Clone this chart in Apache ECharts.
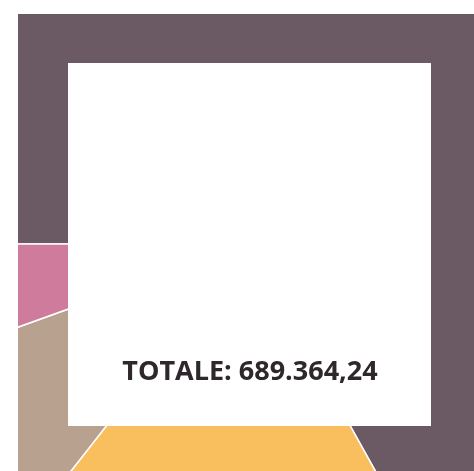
<!DOCTYPE html>
<html>
<head>
<meta charset="utf-8">
<script src="https://cdn.jsdelivr.net/npm/echarts@6/dist/echarts.min.js"></script>
<style>
  html, body { margin: 0; padding: 0; background: #fff; overflow: hidden; width: 474px; height: 471px; }
  #canvas { position: absolute; left: 18px; top: 14px; width: 462px; height: 460px; }
</style>
</head>
<body>
<div id="canvas"></div>
<script>
// dati
var categorie = ['Voce A', 'Voce B', 'Voce C', 'Voce D'];
var valori = [461301.00, 128681.00, 61468.00, 37914.24];
var colori = ['#6b5a63', '#f9be5e', '#b9a190', '#cf7b9c'];

var totale = valori.reduce(function (a, b) { return a + b; }, 0);
var fmt = totale.toLocaleString('it-IT', { minimumFractionDigits: 2, maximumFractionDigits: 2 });

var dom = document.getElementById('canvas');
var myChart = echarts.init(dom);
var option = {
    animation: false,
    series: [{
        type: 'pie',
        silent: true,
        radius: ['0%', '160%'],
        center: ['50%', '50%'],
        startAngle: 180,
        clockwise: true,
        label: { show: false },
        labelLine: { show: false },
        itemStyle: { borderColor: '#fff', borderWidth: 1.5 },
        color: colori,
        data: categorie.map(function (c, i) { return { name: c, value: valori[i] }; })
    }],
    graphic: [
        {
            type: 'rect',
            left: 50, top: 49,
            shape: { width: 363, height: 363 },
            style: { fill: '#fff' },
            z: 100
        },
        {
            type: 'text',
            x: 232, y: 358,
            style: {
                text: 'TOTALE: ' + fmt,
                fill: '#2e272b',
                font: 'bold 27px "Open Sans"',
                align: 'center',
                verticalAlign: 'middle'
            },
            z: 101
        }
    ]
};
myChart.setOption(option);
</script>
</body>
</html>
